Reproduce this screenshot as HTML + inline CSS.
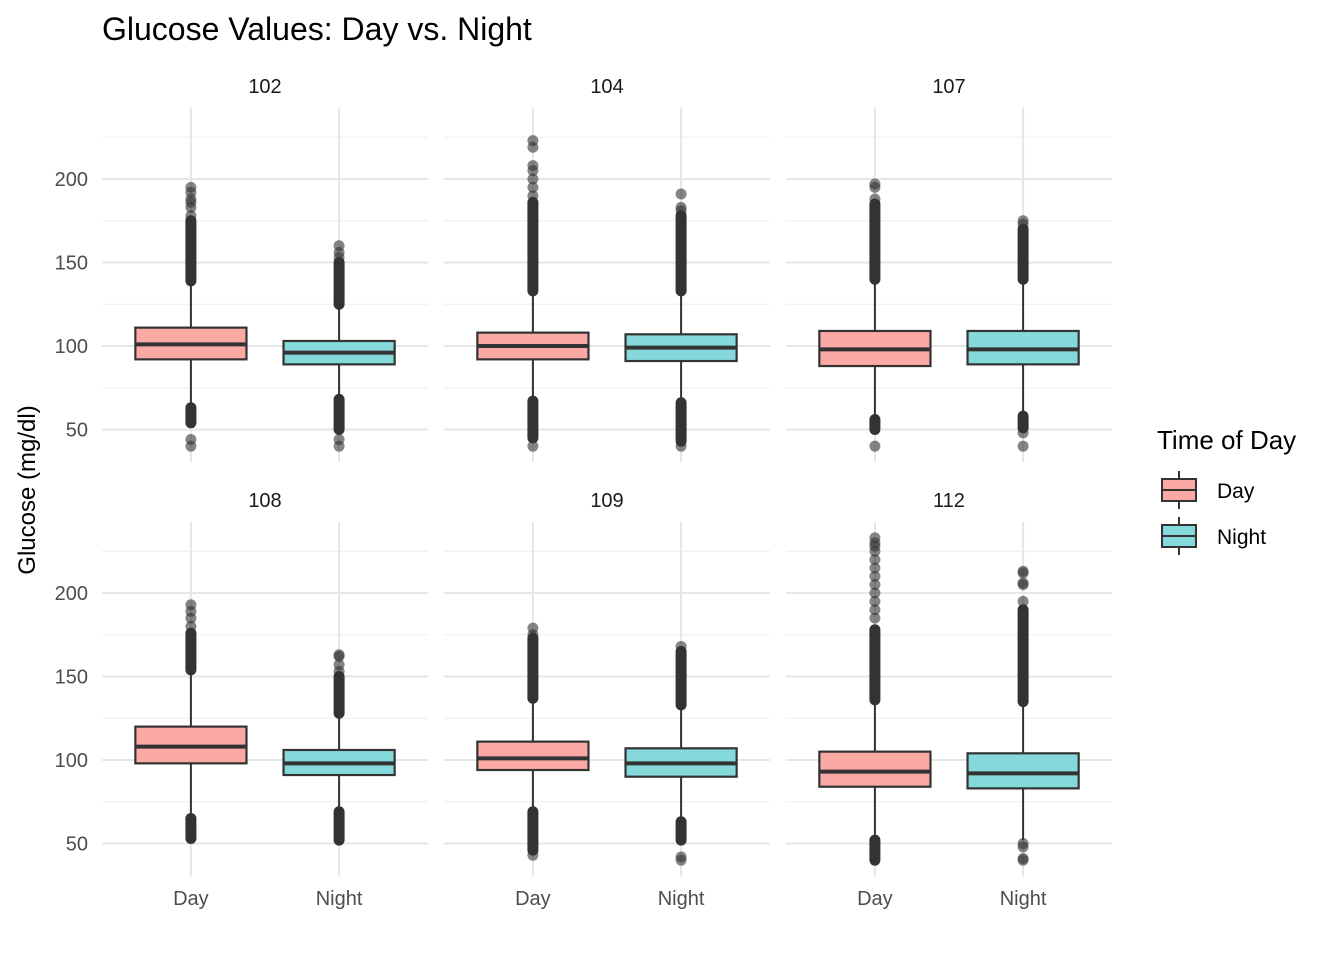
<!DOCTYPE html>
<html><head><meta charset="utf-8"><style>
body{margin:0;background:#fff;}
svg{display:block;font-family:"Liberation Sans",Arial,sans-serif;}
</style></head><body>
<svg id="chart" width="1344" height="960">
<text x="102" y="40" font-size="32" fill="#000">Glucose Values: Day vs. Night</text>
<text transform="translate(35,490) rotate(-90)" text-anchor="middle" font-size="24" fill="#000">Glucose (mg/dl)</text>
<g id="panels"></g>
<g>
<text x="1157" y="449" font-size="26" fill="#000">Time of Day</text>
<g>
<line x1="1179" y1="471" x2="1179" y2="509" stroke="#333" stroke-width="2"/>
<rect x="1162" y="479" width="34" height="22" fill="#FAA9A4" stroke="#333" stroke-width="2"/>
<line x1="1162" y1="490" x2="1196" y2="490" stroke="#333" stroke-width="2"/>
<text x="1217" y="498" font-size="21">Day</text></g>
<g>
<line x1="1179" y1="517" x2="1179" y2="555" stroke="#333" stroke-width="2"/>
<rect x="1162" y="525" width="34" height="22" fill="#86D9DB" stroke="#333" stroke-width="2"/>
<line x1="1162" y1="536" x2="1196" y2="536" stroke="#333" stroke-width="2"/>
<text x="1217" y="544" font-size="21">Night</text></g>
</g>
</svg>
<script>
const panelIds=["102","104","107","108","109","112"];
const groups=["Day","Night"];
const yTicks=[50,100,150,200];
const yMinor=[75,125,175,225];
// per panel: [Day, Night]; each [whiskerLow, q1, median, q3, whiskerHigh]
const boxStats=[
 [[64,92,101,111,139],[69,89,96,103,125]],
 [[68,92,100,108,133],[67,91,99,107,133]],
 [[57,88,98,109,140],[59,89,98,109,140]],
 [[66,98,108,120,154],[70,91,98,106,128]],
 [[70,94,101,111,137],[64,90,98,107,133]],
 [[53,84,93,105,136],[52,83,92,104,135]]
];
// dense outlier ranges [lo,hi]
const denseOutliers=[
 [[[54,63],[139,175]],[[50,68],[125,150]]],
 [[[45,67],[133,186]],[[43,66],[133,178]]],
 [[[50,56],[140,185]],[[51,58],[140,170]]],
 [[[53,65],[154,176]],[[52,69],[128,150]]],
 [[[46,69],[137,173]],[[52,63],[133,165]]],
 [[[40,52],[136,178]],[[135,190]]]
];
const sparseOutliers=[
 [[40,44,178,183,186,188,192,195],[40,44,153,156,160]],
 [[40,190,195,200,205,208,219,223],[40,181,183,191]],
 [[40,188,195,197],[40,48,173,175]],
 [[180,185,189,193],[153,157,162,163]],
 [[43,175,179],[40,42,168]],
 [[185,190,195,200,205,210,215,220,225,228,230,233],[40,41,48,50,195,205,206,212,213]]
];
const fills=["#FAA9A4","#86D9DB"];
const NS="http://www.w3.org/2000/svg";
const yMin=30.35,yMax=242.65,pw=326;
const colX=[102,444,786],rowY=[107.8,521.8],ph=354.5;
function mk(t,a,p){const e=document.createElementNS(NS,t);for(const k in a)e.setAttribute(k,a[k]);p.appendChild(e);return e;}
const root=document.getElementById("panels");
panelIds.forEach((id,pi)=>{
 const x0=colX[pi%3],y0=rowY[Math.floor(pi/3)];
 const ys=v=>y0+(yMax-v)/(yMax-yMin)*ph;
 const xs=c=>x0+(c+0.6)/2.2*pw;
 const g=mk("g",{},root);
 
 
 yMinor.forEach(v=>mk("line",{x1:x0,x2:x0+pw,y1:ys(v),y2:ys(v),stroke:"#f0f0f0","stroke-width":1.2},g));
 yTicks.forEach(v=>mk("line",{x1:x0,x2:x0+pw,y1:ys(v),y2:ys(v),stroke:"#e6e6e6","stroke-width":2},g));
 groups.forEach((gr,ci)=>mk("line",{x1:xs(ci),x2:xs(ci),y1:y0,y2:y0+ph,stroke:"#e6e6e6","stroke-width":2},g));
 const st=mk("text",{x:x0+pw/2,y:y0-15,"text-anchor":"middle","font-size":20,fill:"#1a1a1a"},g);
 st.textContent=id;
 
 
 if(pi%3===0) yTicks.forEach(v=>{const t=mk("text",{x:x0-14,y:ys(v)+7,"text-anchor":"end","font-size":20,fill:"#4d4d4d"},g);t.textContent=v;
  
  });
 if(pi>=3) groups.forEach((gr,ci)=>{const t=mk("text",{x:xs(ci),y:905,"text-anchor":"middle","font-size":20,fill:"#4d4d4d"},g);t.textContent=gr;
  
  });
 groups.forEach((gr,ci)=>{
  const s=boxStats[pi][ci],cx=xs(ci),hw=0.375/2.2*pw;
  const b=mk("g",{},g);
  
  
  denseOutliers[pi][ci].forEach(r=>mk("rect",{x:cx-5.5,y:ys(r[1])-5.5,width:11,height:ys(r[0])-ys(r[1])+11,rx:5.5,fill:"#333"},b));
  sparseOutliers[pi][ci].forEach(v=>mk("circle",{cx:cx,cy:ys(v),r:5.5,fill:"#333","fill-opacity":0.6},b));
  mk("line",{x1:cx,x2:cx,y1:ys(s[4]),y2:ys(s[3]),stroke:"#333","stroke-width":2},b);
  mk("line",{x1:cx,x2:cx,y1:ys(s[1]),y2:ys(s[0]),stroke:"#333","stroke-width":2},b);
  mk("rect",{x:cx-hw,y:ys(s[3]),width:2*hw,height:ys(s[1])-ys(s[3]),fill:fills[ci],stroke:"#333","stroke-width":2.2},b);
  mk("line",{x1:cx-hw,x2:cx+hw,y1:ys(s[2]),y2:ys(s[2]),stroke:"#333","stroke-width":4},b);
 });
});
</script>
</body></html>
